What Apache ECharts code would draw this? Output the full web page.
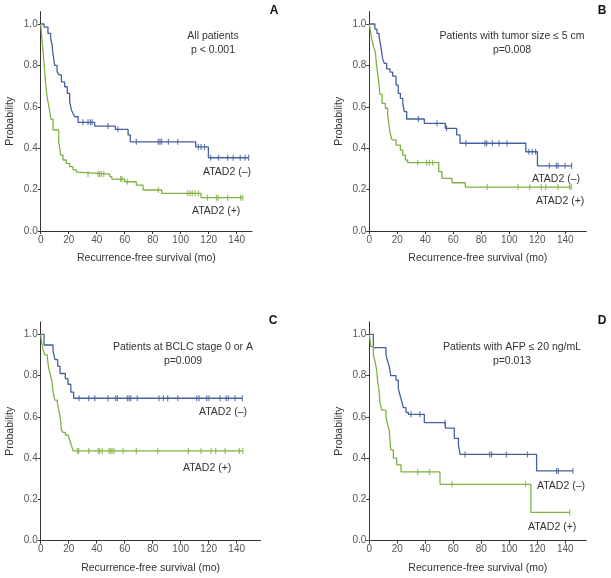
<!DOCTYPE html>
<html><head><meta charset="utf-8">
<script src="https://cdn.jsdelivr.net/npm/echarts@6/dist/echarts.min.js"></script>
<style>html,body{margin:0;padding:0;background:#fff}#c{width:611px;height:578px}</style>
</head><body><div id="c"></div>
<script>
// ---------- texts / ticks ----------
const xTicks = [0, 20, 40, 60, 80, 100, 120, 140];
const yTicks = [0, 0.2, 0.4, 0.6, 0.8, 1.0];
const xName = 'Recurrence-free survival (mo)';
const yName = 'Probability';
const panelLetters = ['A', 'B', 'C', 'D'];
const panelTitles = ['All patients', 'Patients with tumor size \u2264 5 cm', 'Patients at BCLC stage 0 or A', 'Patients with AFP \u2264 20 ng/mL'];
const panelPValues = ['p < 0.001', 'p=0.008', 'p=0.009', 'p=0.013'];
const groupNames = ['ATAD2 (\u2013)', 'ATAD2 (+)'];

// ---------- Panel A ----------
const aNegTimes = [2.4, 5.2, 7.1, 8.1, 8.8, 10.0, 11.7, 13.1, 14.8, 17.1, 19.0, 20.7, 21.9, 23.1, 24.3, 26.7, 38.6, 53.3, 62.4, 64.0, 110.7, 119.8];
const aNegSurv  = [0.985, 0.955, 0.93, 0.90, 0.855, 0.80, 0.77, 0.754, 0.72, 0.697, 0.665, 0.625, 0.585, 0.568, 0.552, 0.525, 0.507, 0.491, 0.464, 0.431, 0.406, 0.354];
const aNegCens  = [30.2, 33.8, 35.5, 36.7, 48.1, 55.2, 68.3, 84.0, 85.2, 86.4, 91.2, 97.9, 112.6, 114.5, 117.0, 121.5, 127.0, 133.5, 137.5, 142.5, 146.0, 148.5];
const aPosTimes = [0.5, 1.0, 1.5, 2.0, 2.5, 3.2, 4.0, 4.8, 5.6, 6.4, 7.3, 8.8, 12.9, 14.3, 15.95, 18.3, 20.7, 23.1, 25.5, 26.7, 49.3, 50.8, 60.0, 68.3, 73.1, 86.4, 114.5];
const aPosSurv  = [0.96, 0.92, 0.88, 0.84, 0.80, 0.74, 0.68, 0.64, 0.61, 0.58, 0.54, 0.488, 0.43, 0.367, 0.343, 0.327, 0.311, 0.295, 0.284, 0.275, 0.263, 0.251, 0.238, 0.222, 0.198, 0.182, 0.161];
const aPosCens  = [33.8, 41.0, 42.1, 43.3, 45.0, 57.1, 58.1, 61.9, 84.0, 105.0, 106.7, 108.3, 110.2, 112.6, 119.0, 125.5, 126.7, 133.5, 142.8, 144.3];

// ---------- Panel B ----------
const bNegTimes = [4.0, 5.5, 7.0, 8.3, 9.5, 10.7, 12.4, 14.8, 16.7, 19.1, 20.7, 22.2, 23.9, 25.0, 26.7, 39.3, 54.3, 62.4, 64.8, 111.8, 120.1];
const bNegSurv  = [0.975, 0.955, 0.939, 0.89, 0.834, 0.81, 0.783, 0.768, 0.748, 0.705, 0.665, 0.641, 0.617, 0.577, 0.541, 0.52, 0.496, 0.464, 0.424, 0.383, 0.315];
const bNegCens  = [35.0, 48.4, 55.2, 69.0, 82.6, 83.8, 87.9, 92.6, 98.3, 114.0, 116.4, 118.8, 128.6, 133.6, 134.8, 139.8, 144.5];
const bPosTimes = [1.2, 2.0, 3.0, 4.3, 5.2, 6.0, 6.7, 7.6, 9.1, 11.5, 13.1, 14.3, 15.0, 16.2, 19.1, 22.2, 23.9, 25.8, 27.4, 49.6, 51.9, 59.1, 68.6];
const bPosSurv  = [0.95, 0.92, 0.89, 0.867, 0.80, 0.76, 0.721, 0.66, 0.617, 0.593, 0.56, 0.50, 0.47, 0.44, 0.415, 0.391, 0.367, 0.343, 0.33, 0.287, 0.254, 0.233, 0.212];
const bPosCens  = [34.6, 41.0, 42.9, 45.3, 84.2, 106.2, 114.6, 122.9, 126.0, 134.8, 143.1, 144.3];

// ---------- Panel C ----------
const cNegTimes = [2.4, 8.8, 10.2, 12.2, 13.8, 17.6, 19.5, 21.5, 23.5];
const cNegSurv  = [0.948, 0.92, 0.877, 0.845, 0.81, 0.785, 0.758, 0.72, 0.69];
const cNegCens  = [27.4, 34.3, 38.6, 48.1, 53.6, 54.8, 61.9, 63.1, 64.3, 69.0, 84.5, 87.6, 90.7, 97.9, 111.4, 113.1, 118.6, 120.2, 128.1, 132.4, 134.0, 138.8, 144.0];
const cPosTimes = [0.5, 1.7, 3.0, 4.8, 5.7, 7.1, 8.1, 8.8, 10.0, 11.9, 12.9, 13.6, 14.3, 14.8, 16.0, 17.6, 19.5, 20.7, 21.9, 23.1];
const cPosSurv  = [0.97, 0.924, 0.90, 0.884, 0.835, 0.80, 0.77, 0.722, 0.681, 0.665, 0.633, 0.609, 0.577, 0.536, 0.525, 0.512, 0.504, 0.488, 0.463, 0.435];
const cPosCens  = [26.2, 27.2, 34.3, 41.0, 42.1, 44.0, 48.8, 50.0, 51.0, 52.4, 58.8, 68.3, 83.6, 105.5, 114.5, 121.7, 125.0, 131.7, 141.9, 144.3];

// ---------- Panel D ----------
const dNegTimes = [2.9, 11.9, 13.1, 14.3, 15.3, 19.1, 20.7, 21.9, 23.1, 24.3, 26.2, 27.9, 39.3, 54.3, 60.7, 63.7, 64.8, 119.5];
const dNegSurv  = [0.935, 0.90, 0.87, 0.843, 0.80, 0.778, 0.738, 0.706, 0.677, 0.645, 0.622, 0.612, 0.572, 0.545, 0.496, 0.464, 0.418, 0.338];
const dNegCens  = [29.8, 36.2, 54.1, 68.4, 86.0, 87.4, 97.9, 113.0, 133.8, 135.0, 145.5];
const dPosTimes = [1.2, 2.9, 4.1, 5.2, 6.0, 6.9, 7.6, 8.8, 11.9, 12.9, 14.3, 15.3, 17.2, 19.6, 22.7, 50.5, 115.4];
const dPosSurv  = [0.94, 0.90, 0.867, 0.83, 0.77, 0.73, 0.67, 0.633, 0.60, 0.567, 0.533, 0.44, 0.40, 0.367, 0.333, 0.273, 0.137];
const dPosCens  = [34.6, 42.9, 59.0, 111.6, 143.1];

// ---------- build ----------
const FONT = "'Liberation Sans','Arial',sans-serif";
const BLUE = '#46609f', GREEN = '#80b243', AXIS = '#333';

const panels = [
  { neg: [aNegTimes, aNegSurv, aNegCens], pos: [aPosTimes, aPosSurv, aPosCens],
    grid: { left: 40.7, top: 11.6, width: 211.4, height: 219.4 }, xMax: 151, yMax: 1.06,
    title: [213, 36], negLbl: [203, 172], posLbl: [192, 211], letter: [274, 11] },
  { neg: [bNegTimes, bNegSurv, bNegCens], pos: [bPosTimes, bPosSurv, bPosCens],
    grid: { left: 369.3, top: 11.6, width: 217, height: 219.4 }, xMax: 155, yMax: 1.06,
    title: [512, 36], negLbl: [532, 179], posLbl: [536, 201], letter: [602, 11] },
  { neg: [cNegTimes, cNegSurv, cNegCens], pos: [cPosTimes, cPosSurv, cPosCens],
    grid: { left: 40.7, top: 321.9, width: 219.8, height: 218.8 }, xMax: 157, yMax: 1.06,
    title: [183, 347], negLbl: [199, 412], posLbl: [183, 468], letter: [273, 321] },
  { neg: [dNegTimes, dNegSurv, dNegCens], pos: [dPosTimes, dPosSurv, dPosCens],
    grid: { left: 369.3, top: 321.9, width: 217, height: 218.8 }, xMax: 155, yMax: 1.06,
    title: [512, 347], negLbl: [537, 486], posLbl: [528, 527], letter: [602, 321] }
];

function stepData(times, surv, cens) {
  const pts = [[0, 1]];
  times.forEach((t, i) => pts.push([t, surv[i]]));
  const end = Math.max(times[times.length - 1], cens.length ? cens[cens.length - 1] : 0);
  pts.push([end, surv[surv.length - 1]]);
  return pts;
}
function censorData(times, surv, cens) {
  return cens.map(c => {
    let s = 1;
    for (let i = 0; i < times.length; i++) if (times[i] <= c) s = surv[i];
    return [c, s];
  });
}

const grids = [], xAxes = [], yAxes = [], series = [], graphics = [];
panels.forEach((p, k) => {
  grids.push(p.grid);
  xAxes.push({
    type: 'value', gridIndex: k, min: 0, max: p.xMax,
    name: xName, nameLocation: 'middle', nameGap: 22,
    nameTextStyle: { fontFamily: FONT, fontSize: 10.5, color: '#333' },
    axisLine: { lineStyle: { color: AXIS, width: 1 } },
    axisTick: { show: true, length: 3, customValues: xTicks, lineStyle: { color: AXIS } },
    axisLabel: { customValues: xTicks, fontFamily: FONT, fontSize: 10, color: '#555', margin: 4 },
    splitLine: { show: false }
  });
  yAxes.push({
    type: 'value', gridIndex: k, min: 0, max: p.yMax,
    name: yName, nameLocation: 'middle', nameGap: 25,
    nameTextStyle: { fontFamily: FONT, fontSize: 10.5, color: '#333' },
    axisLine: { show: true, lineStyle: { color: AXIS, width: 1 } },
    axisTick: { show: true, length: 3, customValues: yTicks, lineStyle: { color: AXIS } },
    axisLabel: { customValues: yTicks, formatter: v => v.toFixed(1), fontFamily: FONT, fontSize: 10, color: '#555', margin: 3 },
    splitLine: { show: false }
  });
  [[p.neg, BLUE], [p.pos, GREEN]].forEach(([d, col]) => {
    series.push({
      type: 'line', xAxisIndex: k, yAxisIndex: k, step: 'end', symbol: 'none',
      data: stepData(d[0], d[1], d[2]), lineStyle: { color: col, width: 1.3 }, silent: true, animation: false
    });
    series.push({
      type: 'scatter', xAxisIndex: k, yAxisIndex: k, symbol: 'rect', symbolSize: [1.2, 6],
      data: censorData(d[0], d[1], d[2]), itemStyle: { color: col }, silent: true, animation: false
    });
  });
  const tf = '10.5px ' + FONT;
  graphics.push({ type: 'text', x: p.title[0], y: p.title[1], style: { text: panelTitles[k], font: tf, fill: '#333', textAlign: 'center', textVerticalAlign: 'middle' } });
  graphics.push({ type: 'text', x: p.title[0], y: p.title[1] + 14.5, style: { text: panelPValues[k], font: tf, fill: '#333', textAlign: 'center', textVerticalAlign: 'middle' } });
  graphics.push({ type: 'text', x: p.negLbl[0], y: p.negLbl[1], style: { text: groupNames[0], font: tf, fill: '#333', textAlign: 'left', textVerticalAlign: 'middle' } });
  graphics.push({ type: 'text', x: p.posLbl[0], y: p.posLbl[1], style: { text: groupNames[1], font: tf, fill: '#333', textAlign: 'left', textVerticalAlign: 'middle' } });
  graphics.push({ type: 'text', x: p.letter[0], y: p.letter[1], style: { text: panelLetters[k], font: 'bold 12px ' + FONT, fill: '#111', textAlign: 'center', textVerticalAlign: 'middle' } });
});

const chart = echarts.init(document.getElementById('c'), null, { renderer: 'canvas' });
chart.setOption({
  animation: false,
  backgroundColor: '#fff',
  grid: grids, xAxis: xAxes, yAxis: yAxes, series: series, graphic: graphics
});
</script>
</body></html>
